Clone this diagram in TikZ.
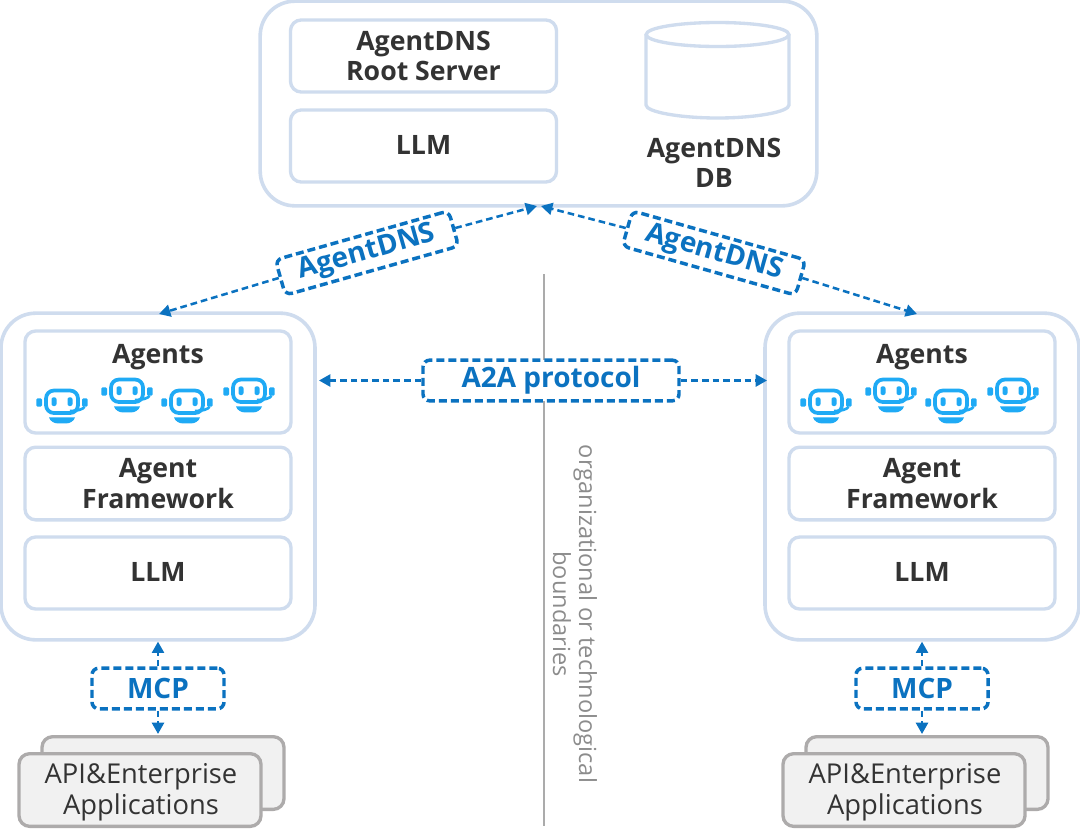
\documentclass[tikz,border=0pt]{standalone}
\usepackage{fontspec}
\setmainfont{Open Sans}
\usetikzlibrary{arrows.meta}
\definecolor{boxblue}{HTML}{CFDCEE}
\definecolor{linkblue}{HTML}{0B72C0}
\definecolor{robotblue}{HTML}{1FAAF5}
\definecolor{darktext}{HTML}{333333}
\definecolor{appgrey}{HTML}{ADABAB}
\definecolor{appfill}{HTML}{F1F1F1}
\definecolor{rulegrey}{HTML}{ABABAB}
\definecolor{notegrey}{HTML}{8C8C8C}
\tikzset{
  x=0.75pt,y=-0.75pt,
  outerbox/.style={draw=boxblue,line width=2.7pt,fill=white,rounded corners=26pt,inner sep=0pt},
  innerbox/.style={draw=boxblue,line width=2.5pt,fill=white,rounded corners=8pt,inner sep=0pt,
    minimum width=199.5pt,align=center,text=darktext,font=\fontsize{20}{23}\selectfont\bfseries},
  plain label/.style={inner sep=0pt,align=center,text=darktext,font=\fontsize{20}{23}\selectfont\bfseries},
  linkbox/.style={draw=linkblue,line width=2.6pt,dash pattern=on 6pt off 3pt,fill=white,rounded corners=5pt,
    inner sep=0pt,text=linkblue,font=\fontsize{21}{24}\selectfont\bfseries},
  linkline/.style={draw=linkblue,line width=1.9pt,dash pattern=on 5pt off 3pt,
    -{Triangle[length=8.5pt,width=9pt,fill=linkblue]}},
  appbox/.style={draw=appgrey,line width=2.5pt,fill=appfill,rounded corners=8pt,inner sep=0pt,
    minimum width=181.5pt,minimum height=54.5pt},
  apptext/.style={align=center,text=darktext,font=\fontsize{20.5}{23.3}\selectfont},
  robotline/.style={draw=robotblue,line width=2.8pt},
  robotfill/.style={fill=robotblue,draw=none},
  robot/.pic={
    \draw[robotline,rounded corners=6pt] (-16,-15.5) rectangle (16,7);
    \fill[robotfill,rounded corners=1pt] (-25.7,-7.7) rectangle (-20,0.7);
    \fill[robotfill,rounded corners=1pt] (20,-7.7) rectangle (25.7,0.7);
    \fill[robotfill,rounded corners=1.5pt] (-10.5,-8.7) rectangle (-5.5,0);
    \fill[robotfill,rounded corners=1.5pt] (5.5,-8.7) rectangle (10.5,0);
    \draw[draw=robotblue,line width=2pt] (22.5,0.7) .. controls (21,3.5) and (15,5) .. (8,5);
    \fill[robotfill] (-13,11.3) -- (13,11.3) .. controls (12,15) and (8,17.3) .. (5,17.3)
       -- (-5,17.3) .. controls (-8,17.3) and (-12,15) .. (-13,11.3) -- cycle;
  }
}
\newcommand{\agentcolumn}[2]{%
  \node[outerbox,minimum width=235.5pt,minimum height=245pt] (#2outer) at (#1,476.5) {};
  \node[innerbox,minimum height=76.5pt] (#2agents) at (#1,382) {};
  \node[plain label] (#2agentstext) at (#1,357) {Agents};
  \pic at ({#1-96},406) {robot};
  \pic at ({#1-31},395) {robot};
  \pic at ({#1+29},406) {robot};
  \pic at ({#1+91},395) {robot};
  \node[innerbox,minimum height=54.5pt] (#2frame) at (#1,483.5) {Agent\\Framework};
  \node[innerbox,minimum height=54pt] (#2llm) at (#1,573) {};
  \node[plain label] (#2llmtext) at (#1,572) {LLM};
  \node[appbox] (#2appback) at ({#1+5},773) {};
  \node[appbox] (#2appfront) at ({#1-18},790) {};
  \node[apptext] (#2apptext) at ({#1-17},792) {API\&Enterprise\\Applications};
  \node[linkbox,minimum width=99pt,minimum height=30.5pt] (#2mcp) at (#1,688.5) {MCP};
  \draw[linkline] (#2mcp.north) -- (#2outer.south);
  \coordinate (#2apptip) at (#1,734);
  \draw[linkline] (#2mcp.south) -- (#2apptip);
}
\begin{document}
\begin{tikzpicture}
\useasboundingbox (0,0) rectangle (1080,829);
\node[inner sep=0pt,minimum width=2.1pt,minimum height=414pt,fill=rulegrey] (rule) at (544,550) {};
\node[outerbox,minimum width=417.5pt,minimum height=153.5pt] (root) at (538.5,103.5) {};
\node[innerbox,minimum height=54pt] (rootserver) at (423.5,56) {AgentDNS\\Root Server};
\node[innerbox,minimum height=54pt] (rootllm) at (423.5,146) {};
\node[plain label] (rootllmtext) at (423.5,145) {LLM};
% database cylinder
\draw[draw=boxblue,line width=2.5pt,fill=white]
  (646,35) -- (646,105) .. controls (646,112) and (680,118) .. (717.5,118)
  .. controls (755,118) and (789,112) .. (789,105) -- (789,35);
\draw[draw=boxblue,line width=2.5pt,fill=white] (717.5,34.5) ellipse [x radius=53.5pt,y radius=9pt];
\node[plain label] (dbtext) at (714,163) {AgentDNS\\DB};
\agentcolumn{158}{l}
\agentcolumn{922}{r}
\coordinate (hubL) at (537,206);
\coordinate (hubR) at (541,206);
\coordinate (tipL) at (159,314);
\coordinate (tipR) at (917,314);
\coordinate (a2aL) at (319,380.5);
\coordinate (a2aR) at (767,380.5);
\node[linkbox,rotate=15.8,minimum width=135pt,minimum height=27.5pt] (dnsL) at (367,253) {AgentDNS};
\node[linkbox,rotate=-15.8,minimum width=135pt,minimum height=27.5pt] (dnsR) at (714,253) {AgentDNS};
\draw[linkline] (dnsL.east) -- (hubL);
\draw[linkline] (dnsL.west) -- (tipL);
\draw[linkline] (dnsR.west) -- (hubR);
\draw[linkline] (dnsR.east) -- (tipR);
\node[linkbox,minimum width=192pt,minimum height=30.5pt] (a2a) at (551,380.5) {A2A protocol};
\draw[linkline] (a2a.west) -- (a2aL);
\draw[linkline] (a2a.east) -- (a2aR);
\node[rotate=-90,align=center,text=notegrey,inner sep=0pt,font=\fontsize{17.7}{19.5}\selectfont] (note) at (575,614)
  {organizational or technological\\boundaries};
\end{tikzpicture}
\end{document}
